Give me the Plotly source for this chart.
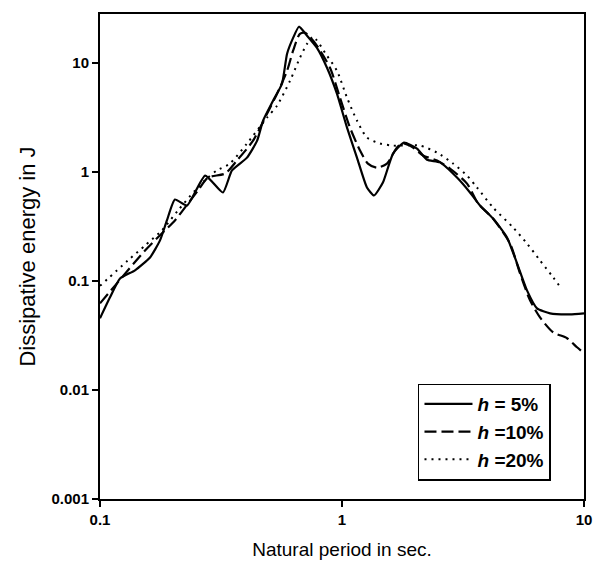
import plotly.graph_objects as go

# h = 5%
t5 = [0.1, 0.110, 0.121, 0.1395, 0.161, 0.177, 0.189, 0.204, 0.229, 0.272, 0.322, 0.351,
      0.405, 0.446, 0.472, 0.519, 0.565, 0.593, 0.628, 0.664, 0.717, 0.788, 0.867, 0.953,
      1.049, 1.153, 1.268, 1.356, 1.476, 1.625, 1.803, 2.042, 2.245, 2.541, 2.987, 3.380,
      3.718, 4.207, 4.807, 5.286, 5.813, 6.396, 7.241, 8.754, 10.0]
e5 = [0.0454, 0.0706, 0.105, 0.125, 0.164, 0.235, 0.358, 0.557, 0.491, 0.924, 0.646, 1.03,
      1.35, 1.93, 2.95, 4.49, 6.42, 12.1, 16.9, 21.4, 17.7, 13.7, 9.0, 5.20,
      2.54, 1.35, 0.718, 0.607, 0.797, 1.47, 1.85, 1.63, 1.29, 1.22, 0.885, 0.646,
      0.491, 0.373, 0.250, 0.145, 0.0818, 0.0560, 0.0504, 0.0494, 0.0504]

# h = 10%
t10 = [0.1, 0.1175, 0.1535, 0.180, 0.204, 0.231, 0.254, 0.279, 0.329, 0.368, 0.429, 0.490,
       0.539, 0.593, 0.628, 0.670, 0.703, 0.773, 0.892, 0.981, 1.079, 1.187, 1.280, 1.395,
       1.534, 1.687, 1.786, 1.965, 2.161, 2.470, 2.794, 3.286, 3.649, 4.207, 4.945, 5.442,
       5.984, 6.580, 7.450, 8.511, 9.357, 10.0]
e10 = [0.0622, 0.0949, 0.190, 0.272, 0.358, 0.512, 0.673, 0.885, 0.964, 1.27, 1.93, 3.41,
       5.20, 8.45, 12.9, 18.4, 18.8, 15.2, 9.0, 4.78, 2.54, 1.57, 1.19, 1.09,
       1.19, 1.67, 1.82, 1.67, 1.41, 1.27, 1.07, 0.780, 0.512, 0.373, 0.220, 0.117,
       0.0663, 0.0463, 0.0338, 0.0298, 0.0246, 0.0217]

# h = 20%
t20 = [0.1, 0.1305, 0.1535, 0.180, 0.210, 0.247, 0.279, 0.304, 0.344, 0.405, 0.490, 0.539,
       0.610, 0.670, 0.717, 0.759, 0.867, 0.953, 1.049, 1.153, 1.268, 1.435, 1.625, 2.100,
       2.470, 2.876, 3.286, 3.614, 4.207, 5.091, 5.813, 6.580, 7.450, 8.111]
e20 = [0.090, 0.154, 0.211, 0.290, 0.442, 0.673, 0.885, 1.03, 1.19, 1.82, 3.14, 4.04,
       6.85, 11.1, 14.9, 17.3, 11.6, 8.45, 4.78, 2.95, 2.06, 1.82, 1.74, 1.74,
       1.50, 1.19, 0.924, 0.718, 0.471, 0.309, 0.220, 0.154, 0.108, 0.0836]

names = ["<i>h</i> = 5%", "<i>h</i> =10%", "<i>h</i> =20%"]
x_ticks = [0.1, 1, 10]
x_ticklabels = ["0.1", "1", "10"]
y_ticks = [0.001, 0.01, 0.1, 1, 10]
y_ticklabels = ["0.001", "0.01", "0.1", "1", "10"]

fig = go.Figure()
fig.add_trace(go.Scatter(x=t5, y=e5, mode="lines", name=names[0],
                         line=dict(color="black", width=2.2, shape="spline", smoothing=0.5)))
fig.add_trace(go.Scatter(x=t10, y=e10, mode="lines", name=names[1],
                         line=dict(color="black", width=2.2, dash="12px,5px", shape="spline", smoothing=0.7)))
fig.add_trace(go.Scatter(x=t20, y=e20, mode="lines", name=names[2],
                         line=dict(color="black", width=2, dash="2px,5px", shape="spline", smoothing=0.7)))

fig.update_layout(
    width=596, height=559,
    margin=dict(l=92, r=20, t=4, b=68),
    paper_bgcolor="white", plot_bgcolor="white",
    font=dict(family="Liberation Sans, Arial, sans-serif", color="black"),
    showlegend=True,
    legend=dict(x=0.657, y=0.238, xanchor="left", yanchor="top",
                bordercolor="black", borderwidth=1.5, bgcolor="white",
                font=dict(size=19, weight="bold"), itemwidth=48,
                tracegroupgap=0),
)
fig.update_xaxes(type="log", range=[-1, 1], tickvals=x_ticks, ticktext=x_ticklabels,
                 showline=True, linecolor="black", linewidth=2, mirror=True,
                 ticks="outside", ticklen=6, tickwidth=1.5, tickcolor="black",
                 showgrid=False, zeroline=False,
                 tickfont=dict(size=15, weight="bold"),
                 title=dict(text="Natural period in sec.", font=dict(size=19), standoff=16))
fig.update_yaxes(type="log", range=[-3, 1.447], tickvals=y_ticks, ticktext=y_ticklabels,
                 showline=True, linecolor="black", linewidth=2, mirror=True,
                 ticks="outside", ticklen=6, tickwidth=1.5, tickcolor="black",
                 showgrid=False, zeroline=False,
                 tickfont=dict(size=15, weight="bold"),
                 title=dict(text="Dissipative energy in J", font=dict(size=22), standoff=10))

fig.write_html("out.html")
